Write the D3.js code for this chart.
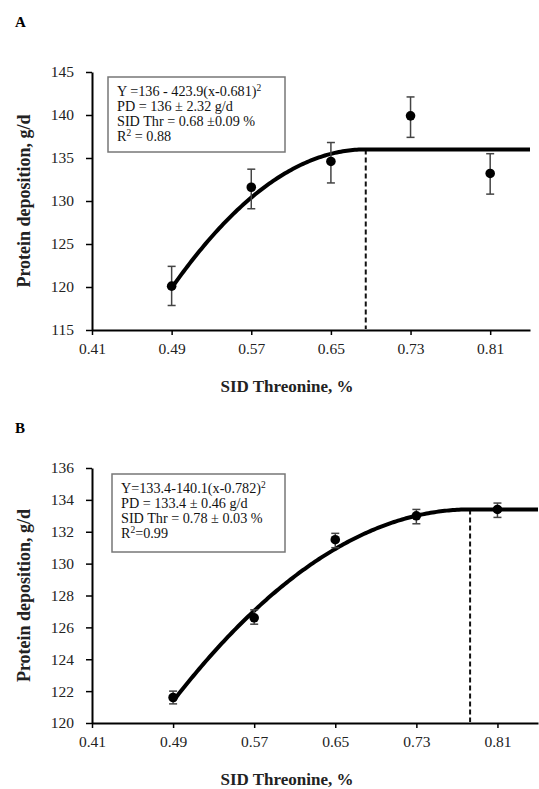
<!DOCTYPE html>
<html><head><meta charset="utf-8">
<script src="https://cdn.jsdelivr.net/npm/d3@7"></script>
<style>
html,body{margin:0;padding:0;background:#fff;}
svg text{font-family:"Liberation Serif","Times New Roman",serif;}
</style></head>
<body>
<svg id="c" width="539" height="789"></svg>
<script>
// ---- data ----
const xTicks = [0.41, 0.49, 0.57, 0.65, 0.73, 0.81];
const xLabel = "SID Threonine, %";
const yLabel = "Protein deposition, g/d";

// Panel A
const doseA = [0.49, 0.57, 0.65, 0.73, 0.81];
const pdA = [120.1, 131.6, 134.6, 139.9, 133.2];
const pdA_lo = [117.85, 129.1, 132.1, 137.4, 130.8];
const pdA_hi = [122.4, 133.7, 136.8, 142.1, 135.5];
const yTicksA = [115, 120, 125, 130, 135, 140, 145];
const fitA = [136, 423.9, 0.685]; // plateau, coefficient, breakpoint
const textA = ["Y =136 - 423.9(x-0.681)", "PD = 136 \u00b1 2.32 g/d", "SID Thr = 0.68 \u00b10.09 %", "R", " = 0.88"];

// Panel B
const doseB = [0.49, 0.57, 0.65, 0.73, 0.81];
const pdB = [121.6, 126.6, 131.5, 133.0, 133.4];
const pdB_lo = [121.2, 126.2, 131.0, 132.5, 132.9];
const pdB_hi = [122.0, 127.1, 131.9, 133.4, 133.8];
const yTicksB = [120, 122, 124, 126, 128, 130, 132, 134, 136];
const fitB = [133.4, 140.1, 0.783];
const textB = ["Y=133.4-140.1(x-0.782)", "PD = 133.4 \u00b1 0.46 g/d", "SID Thr = 0.78 \u00b1 0.03 %", "R", "=0.99"];

const svg = d3.select("#c");
const SERIF = "Liberation Serif, Times New Roman, serif";

function panel(o) {
  const g = svg.append("g").attr("font-family", SERIF);
  const x = d3.scaleLinear().domain([0.41, 0.85]).range([92, o.xr]);
  const y = d3.scaleLinear().domain(o.ydom).range([o.y0, o.y1]);

  // panel letter
  g.append("text").attr("x", 15).attr("y", o.letterY).attr("font-size", 15)
    .attr("font-weight", "bold").attr("font-family", SERIF).text(o.letter);

  // x axis
  const xa = g.append("g").attr("transform", `translate(0,${o.y0})`)
    .call(d3.axisBottom(x).tickValues(xTicks).tickFormat(d3.format(".2f")).tickSize(5).tickPadding(8).tickSizeOuter(0));
  xa.attr("font-family", SERIF);
  xa.select(".domain").attr("stroke", "#000").attr("stroke-width", 2);
  xa.selectAll(".tick line").attr("stroke", "#000").attr("stroke-width", 1.5);
  xa.selectAll(".tick text").attr("font-size", 15.5).attr("fill", "#222");

  // y axis
  const ya = g.append("g").attr("transform", `translate(92,0)`)
    .call(d3.axisLeft(y).tickValues(o.yTicks).tickSize(6).tickPadding(12).tickSizeOuter(0));
  ya.attr("font-family", SERIF);
  ya.select(".domain").attr("stroke", "#000").attr("stroke-width", 2);
  ya.selectAll(".tick line").attr("stroke", "#000").attr("stroke-width", 1.5);
  ya.selectAll(".tick text").attr("font-size", 15.5).attr("fill", "#222");

  // axis titles
  g.append("text").attr("x", 287).attr("y", o.y0 + 62).attr("text-anchor", "middle")
    .attr("font-size", 17).attr("font-weight", "bold").attr("fill", "#222")
    .attr("font-family", SERIF).text(xLabel);
  g.append("text").attr("transform", `translate(30,${(o.y0 + o.y1) / 2}) rotate(-90)`)
    .attr("text-anchor", "middle").attr("font-size", 18).attr("font-weight", "bold")
    .attr("fill", "#222").attr("font-family", SERIF).text(yLabel);

  // dashed threshold
  const [pl, k, bp] = o.fit;
  g.append("line").attr("x1", x(bp)).attr("x2", x(bp)).attr("y1", y(pl)).attr("y2", o.y0 - 1)
    .attr("stroke", "#111").attr("stroke-width", 2).attr("stroke-dasharray", "5,3");

  // fitted broken-line quadratic
  const xs = d3.range(0.49, 0.8501, 0.002);
  const fx = v => v < bp ? pl - k * (v - bp) * (v - bp) : pl;
  g.append("path").datum(xs)
    .attr("d", d3.line().x(d => x(d)).y(d => y(fx(d))))
    .attr("fill", "none").attr("stroke", "#000").attr("stroke-width", 4);

  // error bars
  const eb = g.append("g").attr("stroke", "#444").attr("stroke-width", 1.5);
  o.dose.forEach((d, i) => {
    eb.append("line").attr("x1", x(d)).attr("x2", x(d)).attr("y1", y(o.lo[i])).attr("y2", y(o.hi[i]));
    eb.append("line").attr("x1", x(d) - 4).attr("x2", x(d) + 4).attr("y1", y(o.lo[i])).attr("y2", y(o.lo[i]));
    eb.append("line").attr("x1", x(d) - 4).attr("x2", x(d) + 4).attr("y1", y(o.hi[i])).attr("y2", y(o.hi[i]));
  });
  // points
  g.selectAll("circle.p").data(o.dose).join("circle")
    .attr("cx", d => x(d)).attr("cy", (d, i) => y(o.pd[i])).attr("r", 4.8).attr("fill", "#000");

  // equation box
  g.append("rect").attr("x", o.box[0]).attr("y", o.box[1]).attr("width", o.box[2]).attr("height", o.box[3])
    .attr("fill", "#fff").attr("stroke", "#777").attr("stroke-width", 1.5);
  const tx = o.box[0] + 9, ty = o.box[1] + 19, lh = 15;
  const t = o.text, fs = 14.2;
  const l1 = g.append("text").attr("x", tx).attr("y", ty).attr("font-size", fs).attr("fill", "#111");
  l1.append("tspan").text(t[0]);
  l1.append("tspan").attr("font-size", 9.5).attr("dy", -5).text("2");
  g.append("text").attr("x", tx).attr("y", ty + lh).attr("font-size", fs).attr("fill", "#111").text(t[1]);
  g.append("text").attr("x", tx).attr("y", ty + 2 * lh).attr("font-size", fs).attr("fill", "#111").text(t[2]);
  const l4 = g.append("text").attr("x", tx).attr("y", ty + 3 * lh).attr("font-size", fs).attr("fill", "#111");
  l4.append("tspan").text(t[3]);
  l4.append("tspan").attr("font-size", 9.5).attr("dy", -5).text("2");
  l4.append("tspan").attr("dy", 5).text(t[4]);
}

panel({letter: "A", letterY: 27, xr: 530, ydom: [115, 145], y0: 330, y1: 72, yTicks: yTicksA,
  dose: doseA, pd: pdA, lo: pdA_lo, hi: pdA_hi, fit: fitA, box: [108, 77, 177, 75], text: textA});
panel({letter: "B", letterY: 433, xr: 538, ydom: [120, 136], y0: 723, y1: 468, yTicks: yTicksB,
  dose: doseB, pd: pdB, lo: pdB_lo, hi: pdB_hi, fit: fitB, box: [112, 474, 173, 78], text: textB});
</script>
</body></html>
